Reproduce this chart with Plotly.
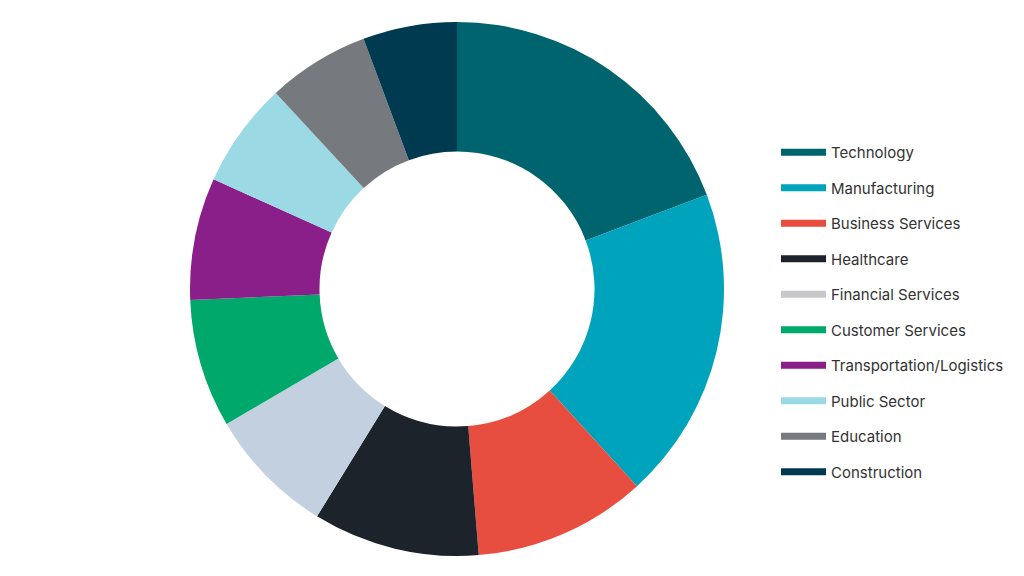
import plotly.graph_objects as go

sectors = ['Technology', 'Manufacturing', 'Business Services', 'Healthcare',
           'Financial Services', 'Customer Services', 'Transportation/Logistics',
           'Public Sector', 'Education', 'Construction']
shares = [19.3, 19.0, 10.5, 10.1, 7.8, 7.8, 7.4, 6.4, 6.2, 5.7]
slice_colors = ['#00646E', '#00A3BC', '#E84E40', '#1D232B', '#C3D0DF',
                '#00A86B', '#8A1F89', '#9BDAE4', '#76797E', '#003A50']
legend_colors = ['#00646E', '#00A3BC', '#E84E40', '#1D232B', '#C8C8CA',
                 '#00A86B', '#8A1F89', '#9BDAE4', '#76797E', '#003A50']

fig = go.Figure()

fig.add_trace(go.Pie(
    labels=sectors, values=shares, sort=False, direction='clockwise',
    rotation=0, hole=0.515, textinfo='none', showlegend=False,
    marker=dict(colors=slice_colors, line=dict(width=0)),
    domain=dict(x=[(449 - 267) / 1024, (449 + 267) / 1024],
                y=[28 / 576, 562 / 576]),
))

# line-style legend entries
for name, col in zip(sectors, legend_colors):
    fig.add_trace(go.Scatter(x=[None], y=[None], mode='lines', name=name,
                             legendgroup=name,
                             line=dict(color=col, width=7)))

fig.update_layout(
    width=1024, height=576,
    margin=dict(l=0, r=0, t=0, b=0),
    paper_bgcolor='white', plot_bgcolor='white',
    xaxis=dict(visible=False), yaxis=dict(visible=False),
    font=dict(family='Inter', size=15, color='#333333'),
    legend=dict(x=0.75, xanchor='left', y=1 - 128 / 576, yanchor='top',
                itemwidth=45, tracegroupgap=13, bgcolor='rgba(0,0,0,0)'),
)

fig.write_html('out.html')
